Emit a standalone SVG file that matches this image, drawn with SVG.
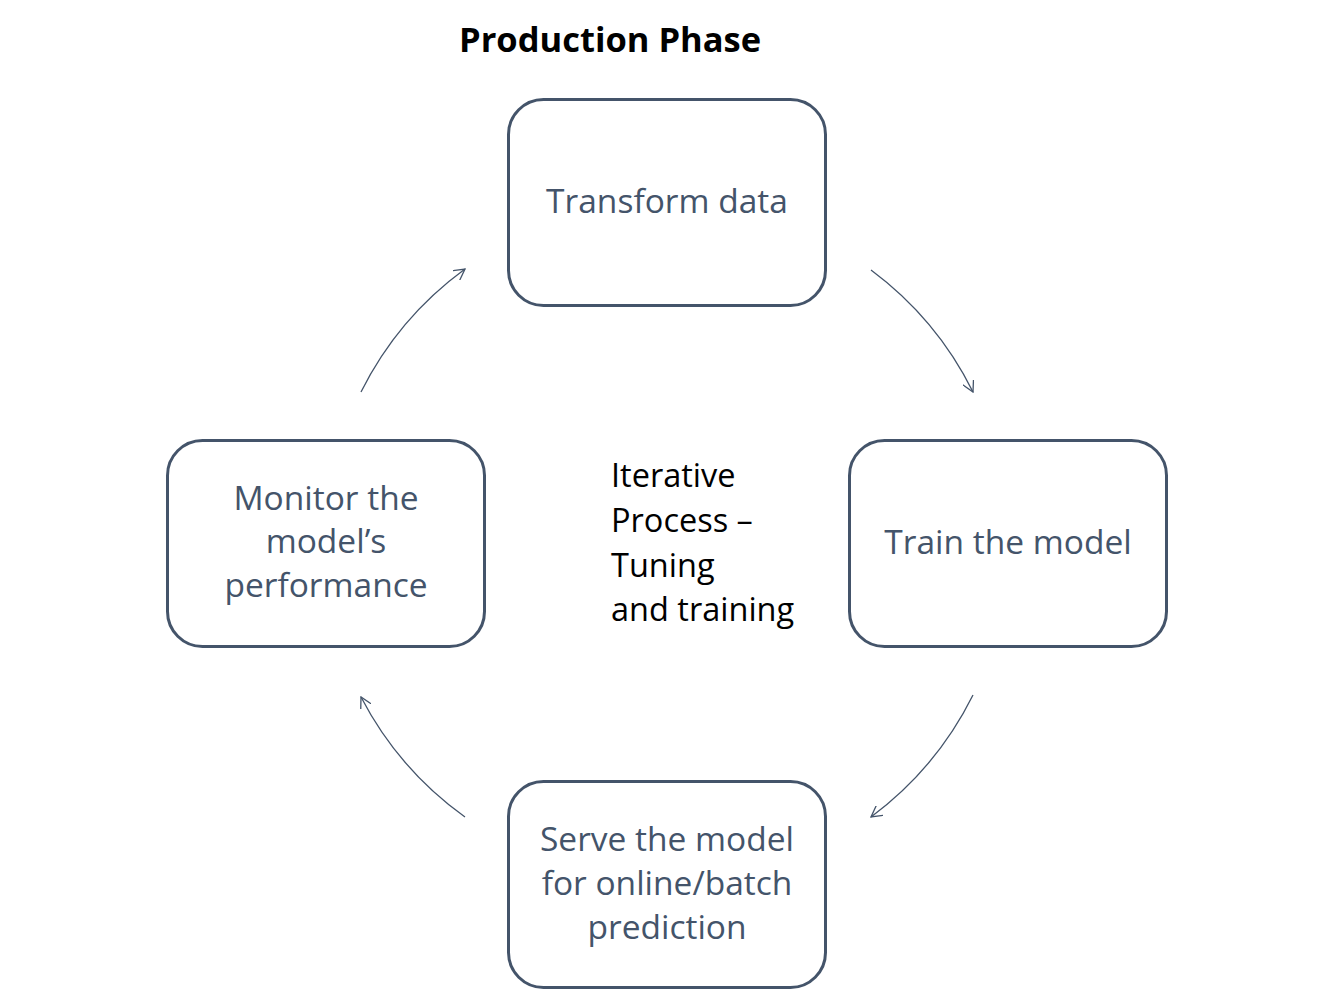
<svg xmlns="http://www.w3.org/2000/svg" width="1334" height="990" viewBox="0 0 1334 990">
<style>
.box{fill:#fff;stroke:#44546A;stroke-width:3}
.lbl{font-family:"Open Sans","Noto Sans",sans-serif;font-size:33.5px;fill:#44546A;text-anchor:middle}
.mid{font-family:"Open Sans","Noto Sans",sans-serif;font-size:32.5px;fill:#000}
.title{font-family:"Open Sans","Noto Sans",sans-serif;font-size:34.5px;font-weight:bold;fill:#000}
.arc{fill:none;stroke:#44546A;stroke-width:1.3;marker-end:url(#ah)}
</style>
<defs>
<marker id="ah" viewBox="0 0 12 12" refX="11" refY="6" markerWidth="12" markerHeight="12" markerUnits="userSpaceOnUse" orient="auto">
<path d="M0,0 L11,6 L0,12" fill="none" stroke="#44546A" stroke-width="1.3"/>
</marker>
</defs>
<rect width="1334" height="990" fill="#fff"/>
<text class="title" x="459" y="52">Production Phase</text>
<g id="connectors">
<path class="arc" d="M871,270 A341,341 0 0 1 973,392"/>
<path class="arc" d="M973,695 A341,341 0 0 1 871,817"/>
<path class="arc" d="M465,817 A341,341 0 0 1 361,697"/>
<path class="arc" d="M361,392 A341,341 0 0 1 465,269"/>
</g>
<g id="transform">
<rect class="box" x="508.5" y="99.5" width="317" height="206" rx="35"/>
<text class="lbl" x="667" y="213">Transform data</text>
</g>
<g id="train">
<rect class="box" x="849.5" y="440.5" width="317" height="206" rx="35"/>
<text class="lbl" x="1008" y="554">Train the model</text>
</g>
<g id="serve">
<rect class="box" x="508.5" y="781.5" width="317" height="206" rx="35"/>
<text class="lbl" x="667" y="851">Serve the model</text>
<text class="lbl" x="667" y="895">for online/batch</text>
<text class="lbl" x="667" y="939">prediction</text>
</g>
<g id="monitor">
<rect class="box" x="167.5" y="440.5" width="317" height="206" rx="35"/>
<text class="lbl" x="326" y="510">Monitor the</text>
<text class="lbl" x="326" y="553">model’s</text>
<text class="lbl" x="326" y="597">performance</text>
</g>
<g id="iterative">
<text class="mid" x="611" y="487">Iterative</text>
<text class="mid" x="611" y="532">Process –</text>
<text class="mid" x="611" y="577">Tuning</text>
<text class="mid" x="611" y="621">and training</text>
</g>
</svg>
